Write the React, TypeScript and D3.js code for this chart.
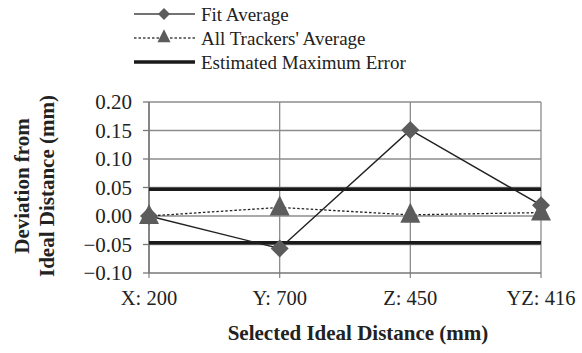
import { useEffect, useRef } from "react";
import * as d3 from "d3";

const categories = ["X: 200", "Y: 700", "Z: 450", "YZ: 416"];
const fitAverage = [0.0, -0.057, 0.151, 0.019];
const trackersAverage = [0.0, 0.015, 0.002, 0.006];
const maxError = [0.047, -0.047];
const yTicks = [0.2, 0.15, 0.1, 0.05, 0.0, -0.05, -0.1];

const FONT = "'Liberation Serif', 'Times New Roman', serif";

function DeviationChart() {
  const ref = useRef<SVGSVGElement | null>(null);

  useEffect(() => {
    const svg = d3.select(ref.current);
    svg.selectAll("*").remove();

    const left = 149;
    const right = 541;
    const top = 102;
    const bottom = 273;

    const x = d3.scalePoint<string>().domain(categories).range([left, right]).padding(0);
    const y = d3.scaleLinear().domain([-0.1, 0.2]).range([bottom, top]);

    const grid = "#8c8c8c";

    // horizontal gridlines
    svg
      .append("g")
      .selectAll("line")
      .data(yTicks.filter((t) => t > -0.1))
      .enter()
      .append("line")
      .attr("x1", left)
      .attr("x2", right)
      .attr("y1", (d) => y(d))
      .attr("y2", (d) => y(d))
      .attr("stroke", grid)
      .attr("stroke-width", 1.3);

    // vertical gridlines with small ticks below the axis
    svg
      .append("g")
      .selectAll("line")
      .data(categories)
      .enter()
      .append("line")
      .attr("x1", (d) => x(d)!)
      .attr("x2", (d) => x(d)!)
      .attr("y1", top)
      .attr("y2", bottom + 5)
      .attr("stroke", grid)
      .attr("stroke-width", 1.3);

    // axes
    svg
      .append("line")
      .attr("x1", left)
      .attr("x2", right)
      .attr("y1", bottom)
      .attr("y2", bottom)
      .attr("stroke", "#777")
      .attr("stroke-width", 1.5);
    svg
      .append("line")
      .attr("x1", left)
      .attr("x2", left)
      .attr("y1", top)
      .attr("y2", bottom)
      .attr("stroke", "#777")
      .attr("stroke-width", 1.5);

    svg
      .append("g")
      .selectAll("line")
      .data(yTicks)
      .enter()
      .append("line")
      .attr("x1", left - 6)
      .attr("x2", left)
      .attr("y1", (d) => y(d))
      .attr("y2", (d) => y(d))
      .attr("stroke", "#777")
      .attr("stroke-width", 1.3);

    svg
      .append("g")
      .selectAll("text")
      .data(yTicks)
      .enter()
      .append("text")
      .attr("x", 132)
      .attr("y", (d) => y(d) + 7)
      .attr("text-anchor", "end")
      .style("font-family", FONT)
      .style("font-size", "21px")
      .attr("fill", "#222")
      .text((d) => d3.format(".2f")(d));

    svg
      .append("g")
      .selectAll("text")
      .data(categories)
      .enter()
      .append("text")
      .attr("x", (d) => x(d)!)
      .attr("y", 305)
      .attr("text-anchor", "middle")
      .style("font-family", FONT)
      .style("font-size", "20.5px")
      .attr("fill", "#222")
      .text((d) => d);

    // estimated maximum error lines
    svg
      .append("g")
      .selectAll("line")
      .data(maxError)
      .enter()
      .append("line")
      .attr("x1", left)
      .attr("x2", right)
      .attr("y1", (d) => y(d))
      .attr("y2", (d) => y(d))
      .attr("stroke", "#1a1a1a")
      .attr("stroke-width", 3.5);

    const line = d3
      .line<number>()
      .x((_, i) => x(categories[i])!)
      .y((d) => y(d));

    svg
      .append("path")
      .attr("d", line(fitAverage))
      .attr("fill", "none")
      .attr("stroke", "#222")
      .attr("stroke-width", 1.4);

    svg
      .append("path")
      .attr("d", line(trackersAverage))
      .attr("fill", "none")
      .attr("stroke", "#222")
      .attr("stroke-width", 1.3)
      .attr("stroke-dasharray", "2.5,2");

    const markerFill = "#5c5c5c";
    const diamond = (cx: number, cy: number, w: number, h: number) =>
      `M${cx},${cy - h}L${cx + w},${cy}L${cx},${cy + h}L${cx - w},${cy}Z`;
    const triangle = (cx: number, cy: number, w: number, h: number) =>
      `M${cx},${cy - h * 0.6}L${cx + w},${cy + h * 0.4}L${cx - w},${cy + h * 0.4}Z`;

    svg
      .append("g")
      .selectAll("path")
      .data(fitAverage)
      .enter()
      .append("path")
      .attr("d", (d, i) => diamond(x(categories[i])!, y(d), 9, 9))
      .attr("fill", markerFill);

    svg
      .append("g")
      .selectAll("path")
      .data(trackersAverage)
      .enter()
      .append("path")
      .attr("d", (d, i) => triangle(x(categories[i])!, y(d), 10, 20))
      .attr("fill", markerFill);

    // axis titles
    svg
      .append("text")
      .attr("x", 358)
      .attr("y", 340)
      .attr("text-anchor", "middle")
      .style("font-family", FONT)
      .style("font-size", "21px")
      .style("font-weight", "bold")
      .attr("fill", "#222")
      .text("Selected Ideal Distance (mm)");

    const yTitle = svg
      .append("text")
      .attr("transform", "translate(0,186) rotate(-90)")
      .attr("text-anchor", "middle")
      .style("font-family", FONT)
      .style("font-size", "21px")
      .style("font-weight", "bold")
      .attr("fill", "#222");
    yTitle.append("tspan").attr("x", 0).attr("y", 29).text("Deviation from");
    yTitle.append("tspan").attr("x", 0).attr("y", 54).text("Ideal Distance (mm)");

    // legend
    const legendRows = [
      { label: "Fit Average", kind: "fit" },
      { label: "All Trackers' Average", kind: "trackers" },
      { label: "Estimated Maximum Error", kind: "error" },
    ];
    const legendY = d3.scalePoint<string>().domain(legendRows.map((r) => r.label)).range([14, 62]);

    const lg = svg
      .append("g")
      .selectAll("g")
      .data(legendRows)
      .enter()
      .append("g")
      .attr("transform", (d) => `translate(0,${legendY(d.label)})`);

    lg.append("line")
      .attr("x1", 134)
      .attr("x2", 195)
      .attr("y1", 0)
      .attr("y2", 0)
      .attr("stroke", (d) => (d.kind === "error" ? "#1a1a1a" : "#444"))
      .attr("stroke-width", (d) => (d.kind === "error" ? 3.5 : 1.4))
      .attr("stroke-dasharray", (d) => (d.kind === "trackers" ? "2.5,2" : null));

    lg.filter((d) => d.kind === "fit")
      .append("path")
      .attr("d", diamond(164, 0, 6, 6))
      .attr("fill", markerFill);
    lg.filter((d) => d.kind === "trackers")
      .append("path")
      .attr("d", triangle(164, -1, 6.5, 13))
      .attr("fill", markerFill);

    lg.append("text")
      .attr("x", 201)
      .attr("y", 6.5)
      .style("font-family", FONT)
      .style("font-size", "19px")
      .attr("fill", "#222")
      .text((d) => d.label);
  }, []);

  return <svg ref={ref} width={582} height={353} style={{ display: "block", background: "#fff" }} />;
}

export default function App() {
  return (
    <div style={{ position: "fixed", left: 0, top: 0, width: 582, height: 353, background: "#fff" }}>
      <DeviationChart />
    </div>
  );
}
